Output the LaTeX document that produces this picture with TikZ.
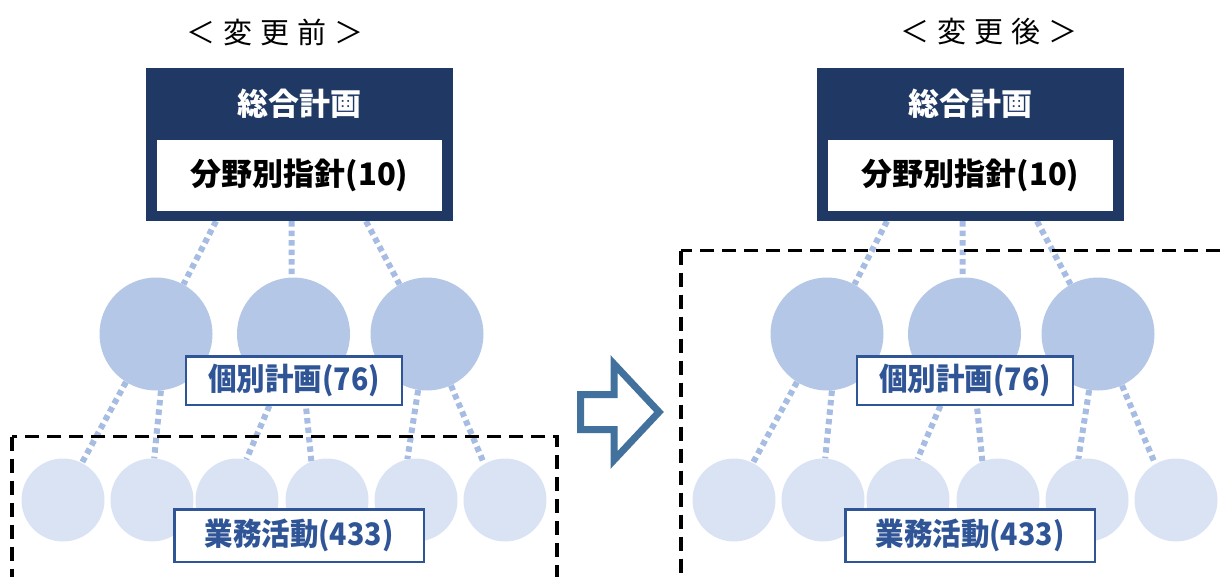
\documentclass[tikz,border=0pt]{standalone}
\usepackage{fontspec}
\setmainfont{Noto Sans CJK JP}
\newfontfamily\jpcond{Noto Sans CJK JP}[FakeStretch=0.92]
\usetikzlibrary{calc}
\definecolor{navy}{HTML}{203864}
\definecolor{bigc}{HTML}{B4C7E7}
\definecolor{smallc}{HTML}{DAE3F3}
\definecolor{lblue}{HTML}{2F5597}
\definecolor{dotc}{HTML}{A6BCE2}
\definecolor{arrowc}{HTML}{41719C}
\pgfdeclarelayer{bg}
\pgfsetlayers{bg,main}
\tikzset{
  planbox/.style={fill=navy, draw=none, minimum width=307pt, minimum height=153pt, inner sep=0pt},
  guidebox/.style={fill=white, draw=none, minimum width=285pt, minimum height=71pt, inner sep=0pt,
    font=\fontsize{31}{36}\selectfont\bfseries},
  titletext/.style={text=white, inner sep=0pt, font=\fontsize{31}{36}\selectfont\bfseries},
  bigcirc/.style={circle, fill=bigc, draw=none, minimum size=113pt, inner sep=0pt},
  smallcirc/.style={circle, fill=smallc, draw=none, minimum size=83pt, inner sep=0pt},
  lbl/.style={draw=lblue, line width=2.5pt, fill=white, text=lblue, inner sep=0pt,
    font=\jpcond\fontsize{31}{36}\selectfont\bfseries},
  conn/.style={draw=dotc, line width=6pt, dash pattern=on 5.5pt off 4pt},
  frame/.style={draw=black, line width=3.2pt, dash pattern=on 14pt off 8pt},
  heading/.style={inner sep=0pt, font=\fontsize{29}{32}\selectfont},
  bigarrow/.style={draw=arrowc, fill=white, line width=7pt, line join=miter},
}
\newcommand\drawpanel[1]{%
  \node[planbox] (#1plan) at (299.5,144.5) {};
  \node[titletext] (#1title) at (299.5,104) {総合計画};
  \node[guidebox] (#1guide) at (299.5,175.5) {分野別指針(10)};
  \node[bigcirc] (#1b1) at (156,334) {};
  \node[bigcirc] (#1b2) at (293.5,334) {};
  \node[bigcirc] (#1b3) at (427,334) {};
  \node[smallcirc] (#1s1) at (63,500) {};
  \node[smallcirc] (#1s2) at (152,500) {};
  \node[smallcirc] (#1s3) at (237,500) {};
  \node[smallcirc] (#1s4) at (327,500) {};
  \node[smallcirc] (#1s5) at (416,500) {};
  \node[smallcirc] (#1s6) at (505,500) {};
  \node[lbl, minimum width=216pt, minimum height=48.5pt] (#1ind) at (294,380.5) {個別計画(76)};
  \node[lbl, minimum width=249.5pt, minimum height=52.5pt] (#1ops) at (299,535.5) {業務活動(433)};
  \begin{pgfonlayer}{bg}
    \draw[conn] ([xshift=-83.5pt]#1plan.south) -- (#1b1.61);
    \draw[conn] ([xshift=-8pt]#1plan.south) -- (#1b2.92);
    \draw[conn] ([xshift=66.5pt]#1plan.south) -- (#1b3.119);
    \draw[conn] (#1b1.238) -- (#1s1.63);
    \draw[conn] (#1b1.275) -- (#1s2.87);
    \draw[conn] (#1b2.253) -- (#1s3.77);
    \draw[conn] (#1b2.281) -- (#1s4.112);
    \draw[conn] (#1b3.261) -- (#1s5.102);
    \draw[conn] (#1b3.295) -- (#1s6.120);
  \end{pgfonlayer}
}
\begin{document}
\begin{tikzpicture}[x=1pt, y=-1pt]
  \useasboundingbox (0,0) rectangle (1226,576);
  \clip (0,0) rectangle (1226,576);
  % left panel
  \node[heading] (headL) at (275,32) {＜\hspace{8pt}変\hspace{8pt}更\hspace{8pt}前\hspace{8pt}＞};
  \drawpanel{L}
  \coordinate (fLtl) at (12,436.5);
  \coordinate (fLbr) at (557,620);
  \draw[frame] (fLtl) rectangle (fLbr);
  % right panel
  \node[heading] (headR) at (989,32) {＜\hspace{8pt}変\hspace{8pt}更\hspace{8pt}後\hspace{8pt}＞};
  \begin{scope}[xshift=671pt]
    \drawpanel{R}
  \end{scope}
  \coordinate (fRtl) at (681,250.5);
  \coordinate (fRbr) at (1230,620);
  \draw[frame] (fRtl) rectangle (fRbr);
  % arrow
  \draw[bigarrow] (580.5,394.5) -- (614,394.5) -- (614,364) -- (659,412)
     -- (614,460) -- (614,429.5) -- (580.5,429.5) -- cycle;
\end{tikzpicture}
\end{document}
